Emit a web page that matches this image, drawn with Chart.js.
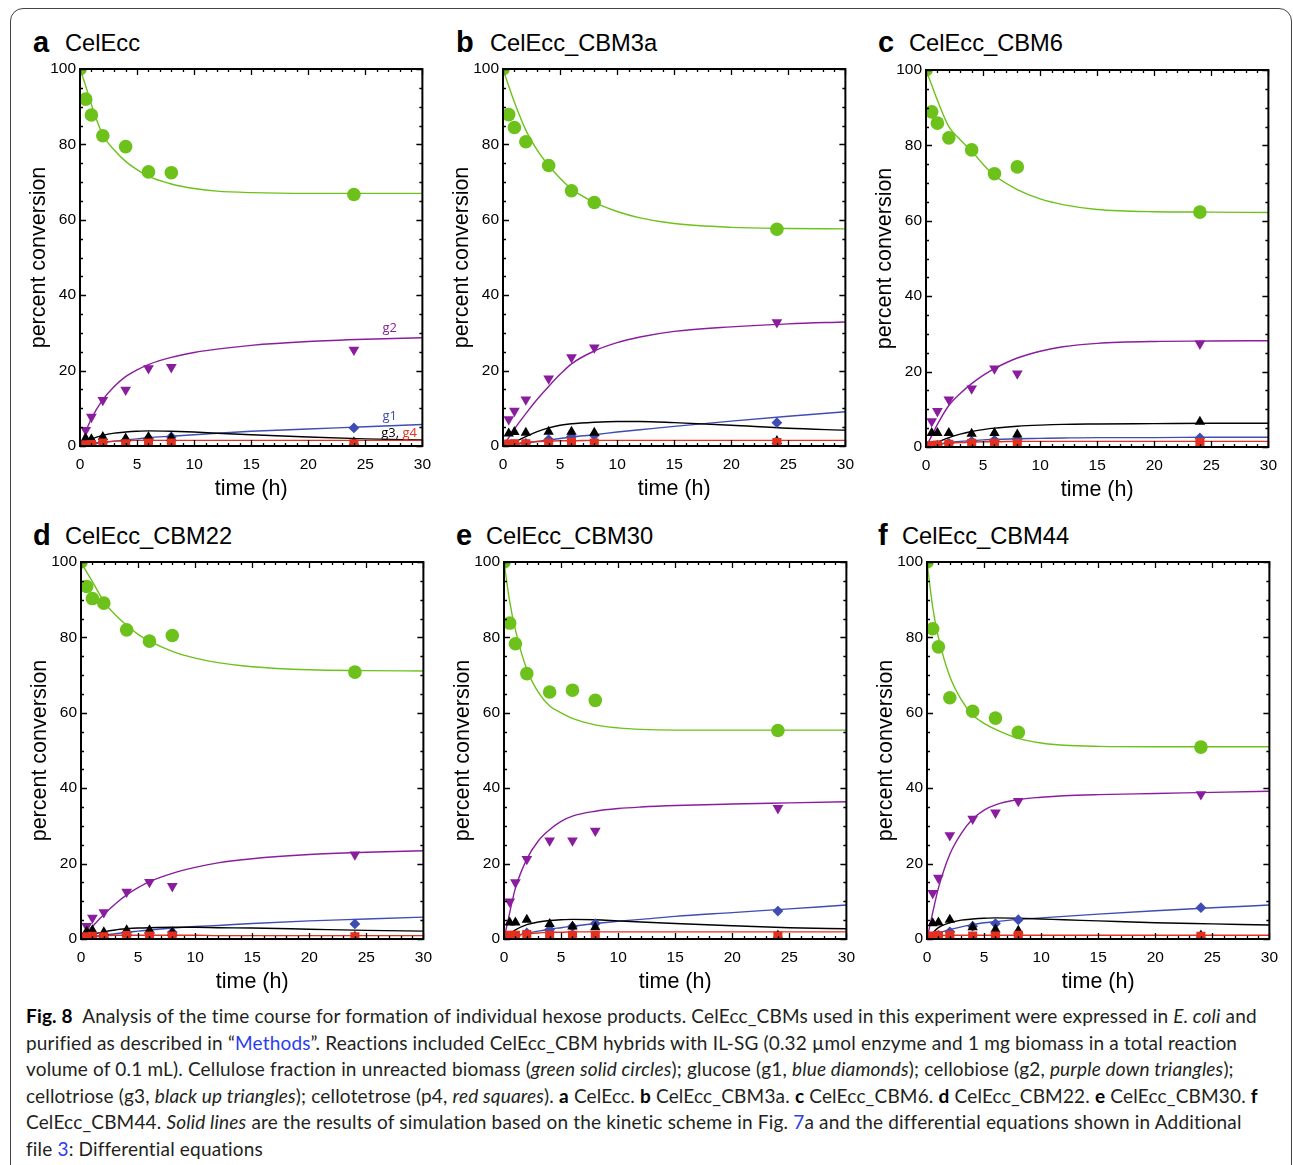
<!DOCTYPE html>
<html>
<head>
<meta charset="utf-8">
<script src="https://cdn.jsdelivr.net/npm/chart.js@4.4.0/dist/chart.umd.min.js"></script>
<style>
  body { margin: 0; background: #fff; width: 1293px; height: 1165px; overflow: hidden; position: relative;
         font-family: "Liberation Sans", Arial, sans-serif; color: #000; }
  .frame { position: absolute; left: 10px; top: 8px; width: 1280px; height: 1300px;
           border: 1px solid #444; border-radius: 13px; }
  .panel { position: absolute; }
  .letter { position: absolute; font-weight: bold; font-size: 29px; line-height: 1; }
  .name { position: absolute; font-size: 23.7px; line-height: 1; }
  .caption { position: absolute; left: 26px; font-family: Lato, "Open Sans", sans-serif; font-size: 19px;
             letter-spacing: 0.17px; line-height: 26.5px; white-space: nowrap; color: #231f20; }
  .caption b { color: #000; }
  .link { color: #2a3cf0; }
</style>
</head>
<body>
<div class="frame"></div>

<div class="letter" style="left:33px; top:27.5px">a</div><div class="name" style="left:65px; top:32px">CelEcc</div>
<div class="letter" style="left:456px; top:27.5px">b</div><div class="name" style="left:490px; top:32px">CelEcc_CBM3a</div>
<div class="letter" style="left:878px; top:27.5px">c</div><div class="name" style="left:909px; top:32px">CelEcc_CBM6</div>
<div class="letter" style="left:33px; top:520.5px">d</div><div class="name" style="left:65px; top:525px">CelEcc_CBM22</div>
<div class="letter" style="left:456px; top:520.5px">e</div><div class="name" style="left:486px; top:525px">CelEcc_CBM30</div>
<div class="letter" style="left:878px; top:520.5px">f</div><div class="name" style="left:902px; top:525px">CelEcc_CBM44</div>

<canvas id="chart_a" class="panel" width="420" height="451" style="left:20px; top:55px"></canvas>
<canvas id="chart_b" class="panel" width="420" height="451" style="left:443px; top:55px"></canvas>
<canvas id="chart_c" class="panel" width="420" height="451" style="left:866px; top:56px"></canvas>
<canvas id="chart_d" class="panel" width="420" height="451" style="left:21px; top:548px"></canvas>
<canvas id="chart_e" class="panel" width="420" height="451" style="left:444px; top:548px"></canvas>
<canvas id="chart_f" class="panel" width="420" height="451" style="left:867px; top:548px"></canvas>

<div class="caption" style="top:1003px">
<b>Fig. 8</b>&nbsp; Analysis of the time course for formation of individual hexose products. CelEcc_CBMs used in this experiment were expressed in <i>E. coli</i> and<br>
purified as described in “<span class="link">Methods</span>”. Reactions included CelEcc_CBM hybrids with IL-SG (0.32 µmol enzyme and 1 mg biomass in a total reaction<br>
volume of 0.1 mL). Cellulose fraction in unreacted biomass (<i>green solid circles</i>); glucose (g1, <i>blue diamonds</i>); cellobiose (g2, <i>purple down triangles</i>);<br>
cellotriose (g3, <i>black up triangles</i>); cellotetrose (p4, <i>red squares</i>). <b>a</b> CelEcc. <b>b</b> CelEcc_CBM3a. <b>c</b> CelEcc_CBM6. <b>d</b> CelEcc_CBM22. <b>e</b> CelEcc_CBM30. <b>f</b><br>
CelEcc_CBM44. <i>Solid lines</i> are the results of simulation based on the kinetic scheme in Fig. <span class="link">7</span>a and the differential equations shown in Additional<br>
file <span class="link">3</span>: Differential equations
</div>

<script>
// Axis ticks
const timeTicks = [0, 5, 10, 15, 20, 25, 30];
const percentTicks = [0, 20, 40, 60, 80, 100];

// Sampling times (h) of the measured points
const celluloseTimes = [0, 0.5, 1, 2, 4, 6, 8, 24];
const productTimes = [0.5, 1, 2, 4, 6, 8, 24];
// Times at which the simulated curves were read off
const curveTimes = [0, 0.5, 1, 2, 3, 4, 5, 6, 8, 10, 12, 15, 20, 25, 30];

// a  CelEcc - measured
const a_cellulose = [100, 92.0, 87.8, 82.3, 79.4, 72.7, 72.5, 66.7];
const a_g1 = [0.2, 0.4, 1.0, 1.5, 2.0, 2.4, 4.8];
const a_g2 = [4.2, 7.7, 12.2, 14.9, 20.6, 20.9, 25.5];
const a_g3 = [2.0, 1.8, 2.4, 2.0, 2.4, 2.2, 1.0];
const a_g4 = [0.3, 0.4, 0.8, 0.6, 0.8, 0.8, 0.6];
// a  CelEcc - simulated
const a_fitCellulose = [100, 95.5, 90.5, 82.5, 78.5, 75.5, 73.3, 71.5, 69.5, 68.3, 67.6, 67.2, 67.0, 67.0, 67.0];
const a_fitG1 = [0, 0.2, 0.5, 0.9, 1.3, 1.6, 1.9, 2.2, 2.6, 3.0, 3.4, 3.9, 4.5, 5.1, 5.7];
const a_fitG2 = [0, 3.8, 7.3, 12.3, 15.8, 18.4, 20.2, 21.6, 23.5, 24.8, 25.7, 26.7, 27.7, 28.3, 28.7];
const a_fitG3 = [0, 1.0, 1.8, 2.8, 3.4, 3.7, 3.9, 4.0, 3.9, 3.7, 3.4, 3.0, 2.4, 1.9, 1.6];
const a_fitG4 = [0, 0.4, 0.7, 1.1, 1.3, 1.4, 1.5, 1.5, 1.5, 1.5, 1.5, 1.5, 1.5, 1.5, 1.5];

// b  CelEcc_CBM3a
const b_cellulose = [100, 87.9, 84.5, 80.7, 74.4, 67.7, 64.6, 57.5];
const b_g1 = [0.2, 0.4, 0.7, 1.7, 2.5, 2.8, 6.2];
const b_g2 = [7.1, 9.3, 12.3, 17.9, 23.5, 26.1, 32.8];
const b_g3 = [3.3, 3.7, 3.5, 3.8, 3.8, 3.5, 1.3];
const b_g4 = [0.5, 0.6, 0.6, 0.7, 1.0, 0.8, 0.9];
const b_fitCellulose = [100, 95.5, 91.2, 83.8, 78.5, 74.4, 71.0, 68.2, 64.6, 62.2, 60.5, 59.0, 58.0, 57.7, 57.6];
const b_fitG1 = [0, 0.2, 0.4, 0.8, 1.2, 1.6, 2.0, 2.4, 3.0, 3.7, 4.3, 5.2, 6.6, 7.9, 9.1];
const b_fitG2 = [0, 2.2, 4.5, 8.6, 12.4, 15.8, 19.0, 21.8, 25.2, 27.4, 28.9, 30.4, 31.6, 32.4, 32.9];
const b_fitG3 = [0, 0.4, 1.0, 2.5, 3.8, 4.8, 5.5, 5.9, 6.3, 6.5, 6.5, 6.2, 5.5, 4.7, 4.2];
const b_fitG4 = [0, 0.3, 0.6, 1.0, 1.2, 1.3, 1.4, 1.4, 1.5, 1.5, 1.5, 1.5, 1.5, 1.5, 1.5];

// c  CelEcc_CBM6
const c_cellulose = [100, 88.9, 85.9, 82.0, 78.8, 72.5, 74.3, 62.3];
const c_g1 = [0.3, 0.5, 1.0, 1.5, 1.8, 2.0, 2.4];
const c_g2 = [6.8, 9.5, 12.6, 15.5, 20.8, 19.5, 27.4];
const c_g3 = [3.7, 3.7, 3.7, 3.5, 3.7, 3.3, 6.7];
const c_g4 = [0.4, 0.5, 0.7, 1.0, 1.0, 0.9, 1.2];
const c_fitCellulose = [100, 96.0, 92.0, 85.0, 81.5, 78.5, 75.0, 72.0, 68.3, 65.8, 64.3, 63.0, 62.4, 62.3, 62.2];
const c_fitG1 = [0, 0.4, 0.7, 1.2, 1.5, 1.7, 1.9, 2.0, 2.2, 2.3, 2.4, 2.5, 2.5, 2.6, 2.6];
const c_fitG2 = [0, 3.0, 6.0, 11.0, 14.2, 16.8, 19.0, 20.8, 23.6, 25.4, 26.6, 27.5, 28.0, 28.1, 28.2];
const c_fitG3 = [0, 0.6, 1.3, 2.5, 3.4, 4.1, 4.6, 5.0, 5.5, 5.8, 6.0, 6.1, 6.2, 6.3, 6.3];
const c_fitG4 = [0, 0.4, 0.7, 1.0, 1.2, 1.3, 1.4, 1.4, 1.5, 1.5, 1.5, 1.5, 1.5, 1.5, 1.5];

// d  CelEcc_CBM22
const d_cellulose = [100, 93.5, 90.3, 89.1, 82.0, 79.0, 80.5, 70.8];
const d_g1 = [0.1, 0.2, 0.3, 1.0, 1.6, 1.8, 4.0];
const d_g2 = [3.4, 5.6, 7.1, 12.5, 15.1, 14.0, 22.4];
const d_g3 = [2.0, 2.3, 1.8, 2.3, 2.3, 1.8, 0.6];
const d_g4 = [0.6, 0.7, 0.6, 0.9, 0.8, 0.8, 0.6];
const d_fitCellulose = [100, 97.3, 94.8, 89.5, 86.0, 83.2, 80.8, 79.0, 76.3, 74.5, 73.3, 72.2, 71.4, 71.2, 71.1];
const d_fitG1 = [0, 0.3, 0.5, 1.0, 1.4, 1.8, 2.1, 2.4, 2.9, 3.3, 3.6, 4.1, 4.8, 5.3, 5.8];
const d_fitG2 = [0, 1.7, 3.3, 6.5, 9.3, 11.7, 13.6, 15.2, 17.4, 19.0, 20.2, 21.3, 22.4, 23.0, 23.4];
const d_fitG3 = [0, 0.6, 1.2, 1.9, 2.4, 2.7, 2.9, 3.0, 3.1, 3.1, 3.0, 2.9, 2.6, 2.3, 2.1];
const d_fitG4 = [0, 0.4, 0.7, 0.9, 1.0, 1.0, 1.0, 1.0, 1.0, 1.0, 0.9, 0.9, 0.9, 0.9, 0.9];

// e  CelEcc_CBM30
const e_cellulose = [100, 83.8, 78.3, 70.4, 65.5, 66.0, 63.3, 55.3];
const e_g1 = [0.4, 0.8, 1.6, 2.5, 3.3, 4.1, 7.4];
const e_g2 = [9.9, 15.0, 21.2, 26.1, 26.1, 28.7, 34.7];
const e_g3 = [4.4, 4.4, 5.1, 4.0, 3.3, 3.1, 0.9];
const e_g4 = [1.0, 1.0, 1.2, 1.0, 1.0, 1.0, 0.8];
const e_fitCellulose = [100, 89.5, 82.0, 71.5, 65.5, 61.8, 60.0, 58.5, 56.8, 56.0, 55.6, 55.4, 55.4, 55.4, 55.4];
const e_fitG1 = [0, 0.4, 0.8, 1.5, 2.1, 2.6, 3.0, 3.4, 4.1, 4.7, 5.2, 6.0, 7.0, 8.0, 9.0];
const e_fitG2 = [0, 7.0, 13.5, 21.2, 26.0, 29.0, 31.2, 32.6, 33.9, 34.6, 35.0, 35.4, 35.8, 36.1, 36.4];
const e_fitG3 = [0, 1.3, 2.4, 3.8, 4.5, 4.9, 5.1, 5.2, 5.1, 4.8, 4.5, 4.1, 3.5, 3.0, 2.7];
const e_fitG4 = [0, 0.5, 0.9, 1.4, 1.6, 1.8, 1.8, 1.9, 1.9, 1.9, 1.9, 1.9, 1.9, 1.9, 1.9];

// f  CelEcc_CBM44
const f_cellulose = [100, 82.3, 77.5, 64.0, 60.4, 58.6, 54.8, 50.9];
const f_g1 = [0.5, 1.0, 1.9, 3.4, 4.1, 5.1, 8.3];
const f_g2 = [12.2, 16.2, 27.5, 31.9, 33.5, 36.6, 38.4];
const f_g3 = [4.2, 4.4, 5.1, 3.1, 2.5, 2.2, 0.9];
const f_g4 = [0.8, 0.9, 1.0, 0.8, 0.8, 1.0, 0.7];
const f_fitCellulose = [100, 88.0, 80.0, 69.6, 63.5, 59.4, 57.2, 55.6, 53.2, 52.0, 51.4, 51.1, 51.0, 51.0, 51.0];
const f_fitG1 = [0, 0.8, 1.5, 2.5, 3.2, 3.8, 4.3, 4.6, 5.2, 5.6, 6.0, 6.6, 7.5, 8.3, 9.0];
const f_fitG2 = [0, 7.0, 13.5, 22.5, 28.0, 31.8, 34.2, 35.6, 37.0, 37.6, 38.0, 38.3, 38.6, 38.9, 39.2];
const f_fitG3 = [0, 1.6, 3.0, 4.3, 5.0, 5.3, 5.5, 5.6, 5.5, 5.3, 5.1, 4.8, 4.3, 4.0, 3.7];
const f_fitG4 = [0, 0.5, 0.9, 1.0, 1.0, 1.0, 1.0, 1.0, 1.0, 1.0, 1.0, 1.0, 1.0, 1.0, 1.0];

// Colours
const GREEN = "#6cc21a";
const PURPLE = "#8a1d9e";
const BLUE = "#3e4cb3";
const BLACK = "#000000";
const RED = "#e4301f";

const AXIS_FONT = "'Liberation Sans', Arial, sans-serif";

// Frame around the plot, with inward major and minor ticks on all four sides
const frameTicks = {
    id: "frameTicks",
    afterDraw(chart) {
        const { ctx, chartArea: { left, right, top, bottom }, scales: { x, y } } = chart;
        ctx.save();
        ctx.strokeStyle = "#000";
        ctx.lineWidth = 1.3;
        ctx.beginPath();
        for (let v = timeTicks[0]; v <= timeTicks[timeTicks.length - 1]; v += 1) {
            const px = Math.round(x.getPixelForValue(v)) + 0.5;
            const len = timeTicks.includes(v) ? 6 : 3;
            ctx.moveTo(px, bottom); ctx.lineTo(px, bottom - len);
            ctx.moveTo(px, top); ctx.lineTo(px, top + len);
        }
        for (let v = percentTicks[0]; v <= percentTicks[percentTicks.length - 1]; v += 5) {
            const py = Math.round(y.getPixelForValue(v)) + 0.5;
            const len = percentTicks.includes(v) ? 6 : 3;
            ctx.moveTo(left, py); ctx.lineTo(left + len, py);
            ctx.moveTo(right, py); ctx.lineTo(right - len, py);
        }
        ctx.stroke();
        ctx.lineWidth = 2;
        ctx.strokeRect(left, top, right - left, bottom - top);
        ctx.restore();
    }
};

// Small coloured curve names (only used in panel a)
const curveNames = {
    id: "curveNames",
    afterDatasetsDraw(chart, args, opts) {
        if (!opts.items) return;
        const { ctx, scales: { x, y } } = chart;
        ctx.save();
        ctx.font = "13px 'Open Sans', sans-serif";
        ctx.textBaseline = "middle";
        ctx.textAlign = "left";
        opts.items.forEach(item => {
            let px = x.getPixelForValue(item.x);
            const py = y.getPixelForValue(item.y);
            item.parts.forEach(part => {
                ctx.fillStyle = part.color;
                ctx.fillText(part.text, px, py);
                px += ctx.measureText(part.text).width;
            });
        });
        ctx.restore();
    }
};

function toXY(xs, ys) {
    return ys.map((v, i) => ({ x: xs[i], y: v }));
}

function markerSet(xs, ys, style, color, radius, rotation, clip) {
    return {
        data: toXY(xs, ys),
        showLine: false,
        pointStyle: style,
        pointRadius: radius,
        pointRotation: rotation,
        pointBackgroundColor: color,
        pointBorderColor: color,
        pointBorderWidth: 0,
        clip: clip
    };
}

function curveSet(ys, color) {
    return {
        data: toXY(curveTimes, ys),
        showLine: true,
        pointRadius: 0,
        borderColor: color,
        borderWidth: 1.4,
        cubicInterpolationMode: "monotone",
        fill: false
    };
}

function createPanel(id, cellulose, g1, g2, g3, g4, fits, names) {
    const ctx = document.getElementById("chart_" + id).getContext("2d");

    // Datasets listed first are drawn on top
    const datasets = [
        markerSet(productTimes, g4, "rect", RED, 6.4, 0),
        markerSet(productTimes, g3, "triangle", BLACK, 6.0, 0),
        markerSet(productTimes, g1, "rectRot", BLUE, 5.4, 0),
        markerSet(productTimes, g2, "triangle", PURPLE, 6.2, 180),
        markerSet(celluloseTimes, cellulose, "circle", GREEN, 6.8, 0, 0),
        curveSet(fits[4], RED),
        curveSet(fits[3], BLACK),
        curveSet(fits[1], BLUE),
        curveSet(fits[2], PURPLE),
        curveSet(fits[0], GREEN)
    ];

    new Chart(ctx, {
        type: "scatter",
        data: { datasets: datasets },
        options: {
            responsive: false,
            animation: false,
            events: [],
            layout: { padding: { top: 14, right: 16, left: 0, bottom: 0 } },
            plugins: {
                legend: { display: false },
                tooltip: { enabled: false },
                curveNames: { items: names }
            },
            scales: {
                x: {
                    type: "linear",
                    min: 0,
                    max: 30,
                    afterBuildTicks: s => { s.ticks = timeTicks.map(v => ({ value: v })); },
                    afterFit: s => { s.height = 60; },
                    grid: { display: false, drawTicks: false },
                    border: { display: false },
                    ticks: { color: "#000", padding: 9, maxRotation: 0, autoSkip: false,
                             font: { family: AXIS_FONT, size: 15.5 } },
                    title: { display: true, text: "time (h)", color: "#000",
                             font: { family: AXIS_FONT, size: 21.5 }, padding: { top: 0, bottom: 4 } }
                },
                y: {
                    type: "linear",
                    min: 0,
                    max: 100,
                    afterBuildTicks: s => { s.ticks = percentTicks.map(v => ({ value: v })); },
                    afterFit: s => { s.width = 60; },
                    grid: { display: false, drawTicks: false },
                    border: { display: false },
                    ticks: { color: "#000", padding: 4, font: { family: AXIS_FONT, size: 15.5 } },
                    title: { display: true, text: "percent conversion", color: "#000",
                             font: { family: AXIS_FONT, size: 21.5 }, padding: { top: 6, bottom: 0 } }
                }
            }
        },
        plugins: [frameTicks, curveNames]
    });
}

document.addEventListener("DOMContentLoaded", function() {
    createPanel("a", a_cellulose, a_g1, a_g2, a_g3, a_g4,
        [a_fitCellulose, a_fitG1, a_fitG2, a_fitG3, a_fitG4],
        [
            { x: 26.5, y: 31.3, parts: [{ text: "g2", color: PURPLE }] },
            { x: 26.5, y: 8.0, parts: [{ text: "g1", color: BLUE }] },
            { x: 26.4, y: 3.5, parts: [{ text: "g3, ", color: BLACK }, { text: "g4", color: RED }] }
        ]);
    createPanel("b", b_cellulose, b_g1, b_g2, b_g3, b_g4,
        [b_fitCellulose, b_fitG1, b_fitG2, b_fitG3, b_fitG4]);
    createPanel("c", c_cellulose, c_g1, c_g2, c_g3, c_g4,
        [c_fitCellulose, c_fitG1, c_fitG2, c_fitG3, c_fitG4]);
    createPanel("d", d_cellulose, d_g1, d_g2, d_g3, d_g4,
        [d_fitCellulose, d_fitG1, d_fitG2, d_fitG3, d_fitG4]);
    createPanel("e", e_cellulose, e_g1, e_g2, e_g3, e_g4,
        [e_fitCellulose, e_fitG1, e_fitG2, e_fitG3, e_fitG4]);
    createPanel("f", f_cellulose, f_g1, f_g2, f_g3, f_g4,
        [f_fitCellulose, f_fitG1, f_fitG2, f_fitG3, f_fitG4]);
});
</script>
</body>
</html>
